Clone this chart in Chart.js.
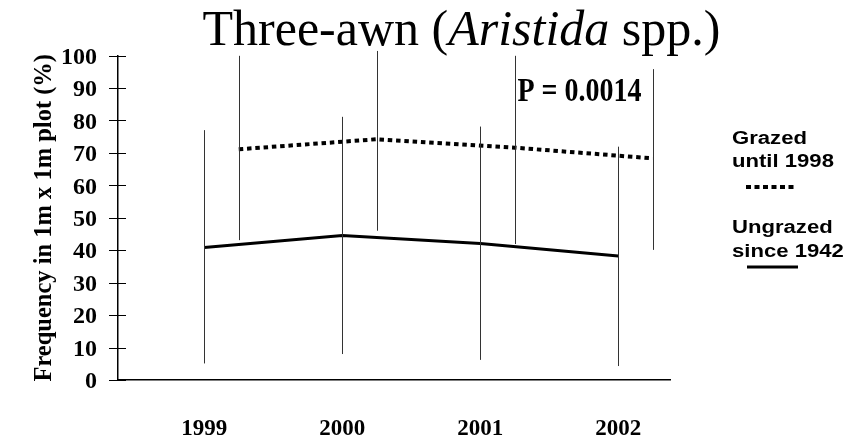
<!DOCTYPE html>
<html>
<head>
<meta charset="utf-8">
<script src="https://cdn.jsdelivr.net/npm/chart.js@4/dist/chart.umd.min.js"></script>
<style>
  html, body { margin: 0; padding: 0; background: #fff; }
  #wrap { width: 865px; height: 440px; position: relative; }
</style>
</head>
<body>
<div id="wrap"><canvas id="grafico"></canvas></div>
<script>
// Frequência de Aristida por ano, com barras de erro
const anos = [1999, 2000, 2001, 2002];
const yTicks = [0, 10, 20, 30, 40, 50, 60, 70, 80, 90, 100];

const pastejado = [71.1, 74.2, 71.6, 68.3];
const pastejadoMin = [43.1, 46.0, 41.9, 40.1];
const pastejadoMax = [99.9, 101.4, 99.9, 95.8];

const naoPastejado = [40.8, 44.5, 42.1, 38.2];
const naoPastejadoMin = [5.1, 8.0, 6.2, 4.3];
const naoPastejadoMax = [77.0, 81.1, 78.1, 71.9];

const deslocamento = 0.25; // série pastejada desenhada um pouco à direita do ano
const serif = '"Liberation Serif", "Times New Roman", serif';
const sans = '"Liberation Sans", Arial, sans-serif';

const extras = {
    id: 'extras',
    afterDatasetsDraw(chart) {
        const ctx = chart.ctx;
        const x = chart.scales.x, y = chart.scales.y;
        ctx.save();
        ctx.strokeStyle = '#333';
        ctx.lineWidth = 1;
        const barra = (xv, lo, hi) => {
            const px = Math.round(x.getPixelForValue(xv)) + 0.5;
            ctx.beginPath();
            ctx.moveTo(px, y.getPixelForValue(lo));
            ctx.lineTo(px, y.getPixelForValue(hi));
            ctx.stroke();
        };
        anos.forEach((a, i) => {
            barra(a, naoPastejadoMin[i], naoPastejadoMax[i]);
            barra(a + deslocamento, pastejadoMin[i], pastejadoMax[i]);
        });

        // marcas do eixo y atravessando a linha do eixo
        ctx.strokeStyle = '#000';
        const left = chart.chartArea.left;
        y.ticks.forEach(t => {
            const py = Math.round(y.getPixelForValue(t.value)) + 0.5;
            ctx.beginPath();
            ctx.moveTo(left - 9, py);
            ctx.lineTo(left + 8, py);
            ctx.stroke();
        });
        ctx.restore();
    },
    afterDraw(chart) {
        const ctx = chart.ctx;
        ctx.save();
        ctx.fillStyle = '#000';
        ctx.textBaseline = 'alphabetic';

        // título com nome do gênero em itálico
        const partes = [
            ['Three-awn (', 'normal'],
            ['Aristida', 'italic'],
            [' spp.)', 'normal']
        ];
        let total = 0;
        partes.forEach(p => {
            ctx.font = `${p[1]} 50px ${serif}`;
            total += ctx.measureText(p[0]).width;
        });
        let tx = 461.5 - total / 2;
        partes.forEach(p => {
            ctx.font = `${p[1]} 50px ${serif}`;
            ctx.fillText(p[0], tx, 45);
            tx += ctx.measureText(p[0]).width;
        });

        // valor de P
        ctx.save();
        ctx.translate(579.5, 101);
        ctx.scale(1, 1.22);
        ctx.font = `bold 28px ${serif}`;
        ctx.textAlign = 'center';
        ctx.fillText('P = 0.0014', 0, 0);
        ctx.restore();

        // legenda
        const texto = (s, px, py) => {
            ctx.save();
            ctx.translate(px, py);
            ctx.scale(1.3, 1.05);
            ctx.font = `bold 17px ${sans}`;
            ctx.fillText(s, 0, 0);
            ctx.restore();
        };
        texto('Grazed', 732, 144);
        texto('until 1998', 732, 166.5);
        texto('Ungrazed', 732, 233);
        texto('since 1942', 732, 257);

        ctx.strokeStyle = '#000';
        ctx.lineWidth = 4;
        ctx.setLineDash([5, 3.5]);
        ctx.beginPath();
        ctx.moveTo(746, 187);
        ctx.lineTo(794, 187);
        ctx.stroke();

        ctx.setLineDash([]);
        ctx.lineWidth = 3;
        ctx.beginPath();
        ctx.moveTo(747, 267);
        ctx.lineTo(798, 267);
        ctx.stroke();
        ctx.restore();
    }
};

new Chart(document.getElementById('grafico'), {
    type: 'line',
    data: {
        datasets: [{
            label: 'Grazed until 1998',
            data: anos.map((a, i) => ({ x: a + deslocamento, y: pastejado[i] })),
            borderColor: '#000',
            borderWidth: 4,
            borderDash: [4.5, 3.8],
            pointRadius: 0,
            tension: 0,
            fill: false
        }, {
            label: 'Ungrazed since 1942',
            data: anos.map((a, i) => ({ x: a, y: naoPastejado[i] })),
            borderColor: '#000',
            borderWidth: 3,
            pointRadius: 0,
            tension: 0,
            fill: false
        }]
    },
    options: {
        responsive: true,
        maintainAspectRatio: false,
        animation: false,
        layout: { padding: { top: 55.5, right: 195, bottom: 0, left: 0 } },
        plugins: {
            legend: { display: false },
            tooltip: { enabled: false },
            title: { display: false }
        },
        scales: {
            x: {
                type: 'linear',
                min: 1998.375,
                max: 2002.375,
                afterBuildTicks: s => { s.ticks = anos.map(v => ({ value: v })); },
                afterFit: s => { s.height = 60; },
                grid: { display: false },
                border: { display: true, color: '#000', width: 1.5 },
                ticks: {
                    color: '#000',
                    padding: 27,
                    maxRotation: 0,
                    font: { family: serif, weight: 'bold', size: 23 },
                    callback: v => String(v)
                }
            },
            y: {
                min: 0,
                max: 100,
                afterBuildTicks: s => { s.ticks = yTicks.map(v => ({ value: v })); },
                afterFit: s => { s.width = 118; },
                grid: { display: false },
                border: { display: true, color: '#000', width: 1.5 },
                ticks: {
                    color: '#000',
                    padding: 13,
                    labelOffset: 2,
                    font: { family: serif, weight: 'bold', size: 24 }
                },
                title: {
                    display: true,
                    text: 'Frequency in 1m x 1m plot (%)',
                    color: '#000',
                    font: { family: serif, weight: 'bold', size: 24.5 },
                    padding: { top: 30, bottom: 0 }
                }
            }
        }
    },
    plugins: [extras]
});
</script>
</body>
</html>
